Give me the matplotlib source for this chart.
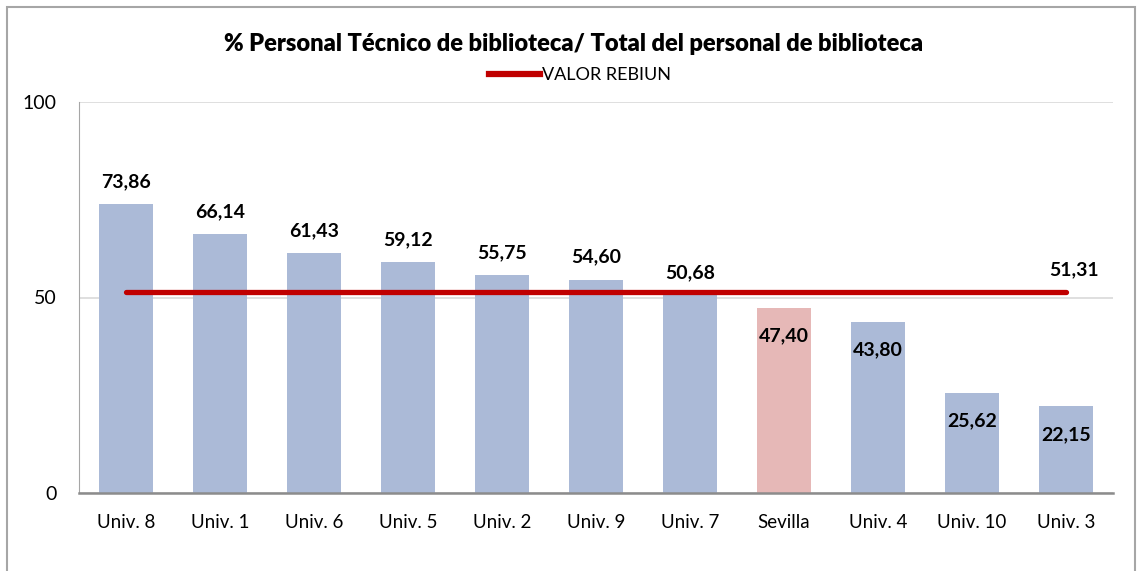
import matplotlib.pyplot as plt
from matplotlib.patches import Rectangle
from matplotlib.lines import Line2D

universidades = ["Univ. 8", "Univ. 1", "Univ. 6", "Univ. 5", "Univ. 2", "Univ. 9",
                 "Univ. 7", "Sevilla", "Univ. 4", "Univ. 10", "Univ. 3"]
porcentaje = [73.86, 66.14, 61.43, 59.12, 55.75, 54.60, 50.68, 47.40, 43.80, 25.62, 22.15]
valor_rebiun = 51.31

plt.rcParams['font.family'] = ['Lato', 'DejaVu Sans']

fig = plt.figure(figsize=(11.42, 5.71), dpi=100)
ax = fig.add_axes([79 / 1142, 1 - 493 / 571, (1113 - 79) / 1142, (493 - 102) / 571])

colores = ["#E6B8B7" if u == "Sevilla" else "#ABBAD7" for u in universidades]
x = list(range(len(universidades)))
ax.bar(x, porcentaje, width=0.57, color=colores, zorder=2)

# linea de referencia REBIUN
ax.plot([x[0], x[-1]], [valor_rebiun, valor_rebiun], color="#C00000", lw=3.8,
        solid_capstyle='round', zorder=3)
ax.annotate(f"{valor_rebiun:.2f}".replace(".", ","), (x[-1], valor_rebiun),
            xytext=(6, 10), textcoords='offset points', ha='center', va='bottom',
            fontsize=14, fontweight='bold')

for xi, v in zip(x, porcentaje):
    txt = f"{v:.2f}".replace(".", ",")
    if v > 50:
        ax.annotate(txt, (xi, v), xytext=(0, 10), textcoords='offset points',
                    ha='center', va='bottom', fontsize=14, fontweight='bold')
    else:
        ax.annotate(txt, (xi, v), xytext=(0, -14), textcoords='offset points',
                    ha='center', va='top', fontsize=14, fontweight='bold')

ax.set_xlim(-0.5, len(universidades) - 0.5)
ax.set_ylim(0, 100)
ax.set_yticks([0, 50, 100])
ax.set_xticks(x)
ax.set_xticklabels(universidades, fontsize=13.5)
ax.tick_params(axis='y', labelsize=14, length=0, pad=16)
ax.tick_params(axis='x', length=0, pad=15)
ax.grid(axis='y', color="#D9D9D9", lw=1.2, zorder=0)
for s in ['top', 'right']:
    ax.spines[s].set_visible(False)
ax.spines['left'].set_color("#A6A6A6")
ax.spines['bottom'].set_color("#8C8C8C")
ax.spines['bottom'].set_linewidth(1.8)

fig.text(574 / 1142, 1 - 44 / 571, "% Personal Técnico de biblioteca/ Total del personal de biblioteca",
         ha='center', va='center', fontsize=17, fontweight='heavy')
leg = fig.legend([Line2D([], [], color="#C00000", lw=4.5)], ["VALOR REBIUN"],
                 loc='center', bbox_to_anchor=(580 / 1142, 1 - 75 / 571), frameon=False,
                 fontsize=13, handlelength=2.8, handletextpad=0.1)

fig.patches.append(Rectangle((7 / 1142, -0.05), (1135 - 7) / 1142, 1.05 - 7 / 571,
                             transform=fig.transFigure, fill=False, edgecolor="#A6A6A6", lw=1.5))

fig.savefig("out.png", dpi=100)
